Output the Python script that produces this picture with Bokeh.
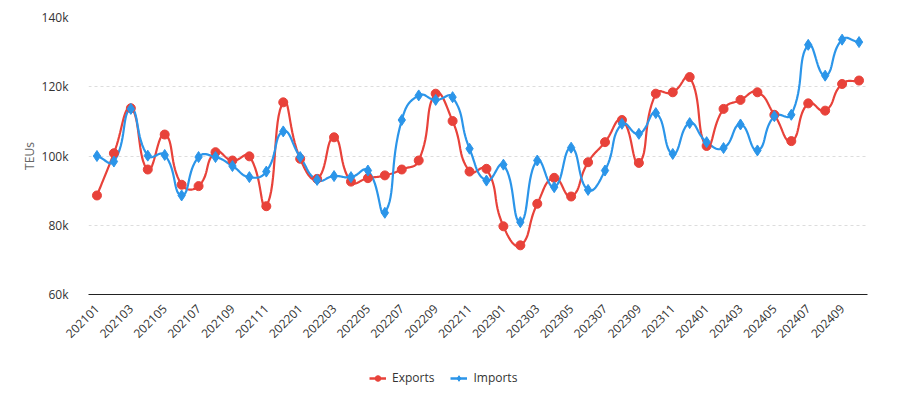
import math
from bokeh.plotting import figure
from bokeh.layouts import column
from bokeh.models import (Legend, LegendItem, FixedTicker, NumeralTickFormatter,
                          Range1d)
from bokeh.embed import file_html
from bokeh.resources import INLINE

months = ["202101", "202102", "202103", "202104", "202105", "202106", "202107", "202108",
          "202109", "202110", "202111", "202112", "202201", "202202", "202203", "202204",
          "202205", "202206", "202207", "202208", "202209", "202210", "202211", "202212",
          "202301", "202302", "202303", "202304", "202305", "202306", "202307", "202308",
          "202309", "202310", "202311", "202312", "202401", "202402", "202403", "202404",
          "202405", "202406", "202407", "202408", "202409", "202410"]

exports = [88600, 100800, 113800, 96100, 106200, 91700, 91300, 101100, 98700, 99900,
           85500, 115500, 99200, 93400, 105400, 92600, 93600, 94400, 96100, 98700,
           118000, 110100, 95500, 96300, 79700, 74200, 86200, 93700, 88300, 98200,
           104000, 110400, 98000, 118000, 118400, 122800, 102900, 113600, 116200, 118400,
           111900, 104300, 115200, 113100, 120800, 121800]

imports = [100000, 98400, 113600, 100100, 100300, 88600, 99700, 99700, 97100, 93900,
           95500, 107100, 99700, 93100, 94200, 93900, 95800, 83600, 110400, 117500,
           116200, 117000, 102100, 92900, 97500, 80900, 98700, 91000, 102400, 90200,
           95800, 109300, 106400, 112400, 100600, 109500, 104000, 102300, 109100, 101600,
           111500, 111900, 132100, 123200, 133600, 132900]

series_names = ["Exports", "Imports"]
y_ticks = [60000, 80000, 100000, 120000, 140000]

RED = "#e8423a"
BLUE = "#2b95e9"


def smooth_curve(vals, smooth=0.5, sx=16.93, sy=3.4625 / 1000.0, steps=16):
    n = len(vals)
    pts = [(i * sx, v * sy) for i, v in enumerate(vals)]
    cps = []
    for i in range(n):
        p = pts[i]
        prev = pts[i - 1] if i > 0 else p
        nxt = pts[i + 1] if i < n - 1 else p
        vx, vy = nxt[0] - prev[0], nxt[1] - prev[1]
        d0 = math.hypot(p[0] - prev[0], p[1] - prev[1])
        d1 = math.hypot(p[0] - nxt[0], p[1] - nxt[1])
        s = d0 + d1
        if s > 0:
            d0 /= s
            d1 /= s
        c_in = (p[0] - vx * smooth * d0, p[1] - vy * smooth * d0)
        c_out = (p[0] + vx * smooth * d1, p[1] + vy * smooth * d1)
        cps.append((c_in, c_out))
    xs, ys = [], []
    for i in range(n - 1):
        p0 = pts[i]
        p1 = cps[i][1]
        p2 = cps[i + 1][0]
        p3 = pts[i + 1]
        for k in range(steps):
            t = k / steps
            a = (1 - t) ** 3
            b = 3 * (1 - t) ** 2 * t
            c = 3 * (1 - t) * t ** 2
            d = t ** 3
            xs.append((a * p0[0] + b * p1[0] + c * p2[0] + d * p3[0]) / sx)
            ys.append((a * p0[1] + b * p1[1] + c * p2[1] + d * p3[1]) / sy)
    xs.append(pts[-1][0] / sx)
    ys.append(pts[-1][1] / sy)
    return xs, ys


p = figure(width=898, height=355, output_backend="svg", toolbar_location=None,
           x_range=Range1d(-0.5, len(months) - 0.5), y_range=Range1d(60000, 140000),
           min_border_left=88, min_border_right=31, min_border_top=17, min_border_bottom=61)
p.outline_line_color = None
p.background_fill_color = "white"
p.border_fill_color = "white"

idx = list(range(len(months)))

ex_x, ex_y = smooth_curve(exports)
im_x, im_y = smooth_curve(imports)

p.line(ex_x, ex_y, line_color=RED, line_width=2.2)
p.line(im_x, im_y, line_color=BLUE, line_width=2.2)
p.scatter(idx, exports, marker="circle", size=9, fill_color=RED, line_color=RED)
p.scatter(idx, imports, marker="diamond", size=11, fill_color=BLUE, line_color=BLUE)

# axes
p.xaxis.ticker = FixedTicker(ticks=list(range(0, len(months), 2)))
p.xaxis.major_label_overrides = {i: months[i] for i in range(len(months))}
p.xaxis.major_label_orientation = math.pi / 4
p.xaxis.axis_line_color = "#222222"
p.xaxis.axis_line_width = 1
p.xaxis.major_tick_line_color = None
p.xaxis.minor_tick_line_color = None
p.xaxis.major_label_text_font = "Open Sans"
p.xaxis.major_label_text_font_size = "12px"
p.xaxis.major_label_text_color = "#333333"
p.xaxis.major_label_standoff = 6

p.yaxis.ticker = FixedTicker(ticks=y_ticks)
p.yaxis.formatter = NumeralTickFormatter(format="0a")
p.yaxis.axis_line_color = None
p.yaxis.major_tick_line_color = None
p.yaxis.minor_tick_line_color = None
p.yaxis.major_label_text_font = "Open Sans"
p.yaxis.major_label_text_font_size = "12px"
p.yaxis.major_label_text_color = "#333333"
p.yaxis.major_label_standoff = 14
p.yaxis.axis_label = "TEUs"
p.yaxis.axis_label_text_font = "Open Sans"
p.yaxis.axis_label_text_font_size = "12px"
p.yaxis.axis_label_text_font_style = "normal"
p.yaxis.axis_label_text_color = "#666666"
p.yaxis.axis_label_standoff = 1

p.xgrid.grid_line_color = None
p.ygrid.grid_line_color = "#dddddd"
p.ygrid.grid_line_dash = "3 3"
p.ygrid.grid_line_width = 1

# legend strip below the chart
lg = figure(width=898, height=39, output_backend="svg", toolbar_location=None,
            x_axis_type=None, y_axis_type=None, min_border=0,
            x_range=Range1d(0, 1), y_range=Range1d(0, 1))
lg.outline_line_color = None
lg.grid.visible = False
r1 = lg.line([5, 6], [5, 6], line_color=RED, line_width=2.5)
r2 = lg.scatter([5], [5], marker="circle", size=9, fill_color=RED, line_color=RED)
r3 = lg.line([5, 6], [5, 6], line_color=BLUE, line_width=2.5)
r4 = lg.scatter([5], [5], marker="diamond", size=11, fill_color=BLUE, line_color=BLUE)
legend = Legend(items=[LegendItem(label=series_names[0], renderers=[r1, r2]),
                       LegendItem(label=series_names[1], renderers=[r3, r4])],
                orientation="horizontal", location=(281, 8),
                label_text_font="Open Sans", label_text_font_size="12px",
                label_text_color="#333333", glyph_width=17, glyph_height=14,
                spacing=16, border_line_color=None, background_fill_alpha=0,
                margin=0, padding=2, label_standoff=6)
lg.add_layout(legend, "center")

layout = column(p, lg, spacing=0)
open("out.html", "w").write(file_html(layout, INLINE))
